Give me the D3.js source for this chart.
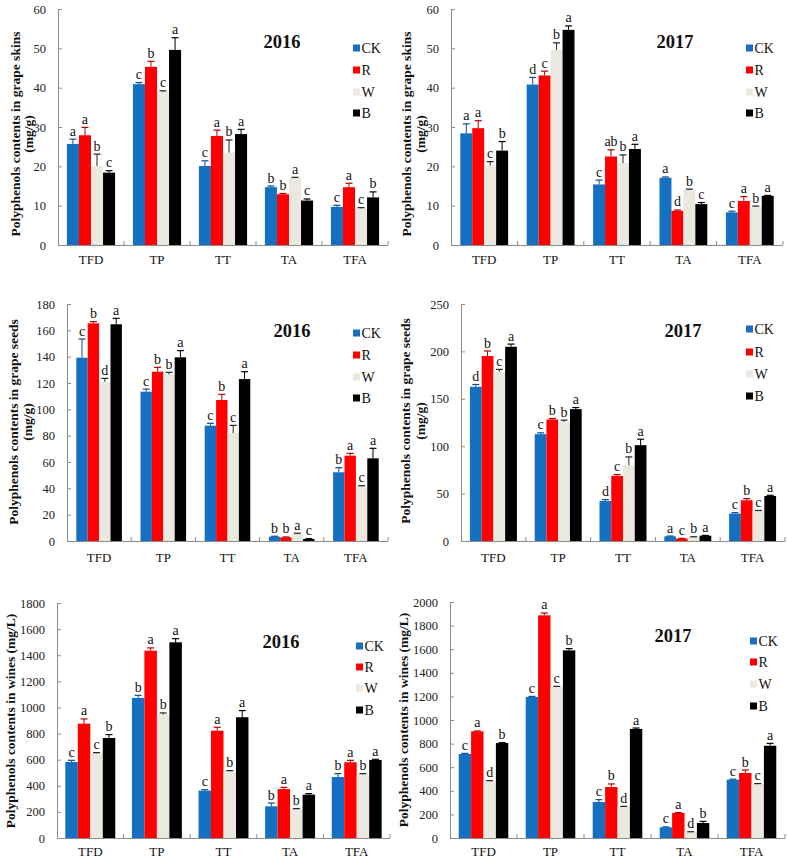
<!DOCTYPE html>
<html>
<head>
<meta charset="utf-8">
<script src="https://cdn.jsdelivr.net/npm/d3@7"></script>
<style>
  html, body { margin: 0; padding: 0; background: #fff; }
  svg { display: block; }
  text { font-family: "Liberation Serif", "Times New Roman", serif; }
</style>
</head>
<body>
<svg id="chart" width="787" height="858"></svg>
<script>
// ---------------- DATA ----------------
const categories = ["TFD", "TP", "TT", "TA", "TFA"];
const seriesNames = ["CK", "R", "W", "B"];

// Grape skins 2016 (mg/g): means per series [CK, R, W, B], each over categories
const skins2016Mean = [
  [25.7, 40.9, 20.1, 14.7, 9.7],
  [27.9, 45.3, 27.7, 12.9, 14.7],
  [20.1, 39.0, 23.5, 17.0, 9.3],
  [18.4, 49.6, 28.2, 11.3, 12.1]
];
const skins2016Err = [
  [1.2, 0.4, 1.3, 0.3, 0.4],
  [2.0, 1.4, 1.5, 0.2, 1.0],
  [3.0, 0.2, 3.2, 0.2, 0.2],
  [0.5, 3.1, 1.2, 0.4, 1.4]
];
const skins2016Letters = [
  ["a", "c", "c", "b", "c"],
  ["a", "b", "a", "b", "a"],
  ["b", "c", "b", "a", "c"],
  ["c", "a", "a", "c", "b"]
];

// Grape skins 2017 (mg/g)
const skins2017Mean = [
  [28.4, 40.8, 15.4, 17.1, 8.3],
  [29.7, 43.1, 22.5, 8.7, 11.2],
  [20.2, 49.6, 20.8, 14.0, 9.7],
  [24.0, 54.7, 24.4, 10.4, 12.5]
];
const skins2017Err = [
  [2.4, 1.8, 1.1, 0.2, 0.3],
  [1.9, 1.1, 1.7, 0.2, 1.1],
  [1.0, 1.8, 2.1, 0.2, 0.2],
  [2.3, 1.0, 1.2, 0.4, 0.1]
];
const skins2017Letters = [
  ["a", "d", "c", "a", "c"],
  ["a", "c", "ab", "d", "a"],
  ["c", "b", "b", "b", "b"],
  ["b", "a", "a", "c", "a"]
];

// Grape seeds 2016 (mg/g)
const seeds2016Mean = [
  [139.2, 113.4, 87.6, 3.3, 52.2],
  [165.3, 128.6, 107.1, 2.8, 64.8],
  [121.0, 126.6, 82.0, 5.6, 41.5],
  [164.6, 139.5, 123.0, 1.5, 62.8]
];
const seeds2016Err = [
  [14.2, 2.0, 1.8, 0.3, 3.5],
  [1.3, 3.3, 4.3, 0.3, 1.8],
  [2.5, 1.5, 5.8, 0.3, 0.5],
  [4.5, 5.1, 5.6, 0.3, 7.6]
];
const seeds2016Letters = [
  ["c", "c", "c", "b", "b"],
  ["b", "b", "b", "b", "a"],
  ["d", "b", "c", "a", "c"],
  ["a", "a", "a", "c", "a"]
];

// Grape seeds 2017 (mg/g)
const seeds2017Mean = [
  [162.7, 112.7, 42.3, 4.9, 28.9],
  [195.1, 128.2, 68.7, 2.5, 43.0],
  [178.5, 125.7, 80.0, 4.2, 31.7],
  [204.9, 139.1, 101.1, 5.6, 47.5]
];
const seeds2017Err = [
  [2.4, 1.4, 1.4, 0.3, 1.0],
  [5.3, 1.0, 1.4, 0.3, 1.7],
  [2.5, 1.8, 8.7, 0.3, 0.5],
  [2.8, 1.7, 6.3, 0.3, 0.7]
];
const seeds2017Letters = [
  ["d", "c", "d", "a", "c"],
  ["b", "b", "c", "c", "b"],
  ["c", "b", "b", "b", "c"],
  ["a", "a", "a", "a", "a"]
];

// Wines 2016 (mg/L)
const wines2016Mean = [
  [582, 1073, 363, 243, 467],
  [876, 1435, 822, 375, 580],
  [649, 945, 511, 222, 488],
  [766, 1499, 925, 332, 598]
];
const wines2016Err = [
  [13, 20, 7, 25, 26],
  [36, 21, 26, 13, 15],
  [5, 13, 5, 3, 5],
  [26, 28, 51, 8, 5]
];
const wines2016Letters = [
  ["c", "b", "c", "b", "b"],
  ["a", "a", "a", "a", "a"],
  ["c", "b", "b", "b", "b"],
  ["b", "a", "a", "a", "a"]
];

// Wines 2017 (mg/L)
const wines2017Mean = [
  [712, 1195, 305, 91, 494],
  [904, 1887, 432, 212, 551],
  [480, 1280, 263, 51, 458],
  [805, 1590, 924, 127, 782]
];
const wines2017Err = [
  [5, 5, 20, 3, 5],
  [3, 20, 26, 3, 25],
  [6, 5, 5, 2, 3],
  [3, 15, 8, 14, 20]
];
const wines2017Letters = [
  ["c", "c", "c", "c", "c"],
  ["a", "a", "b", "a", "b"],
  ["d", "c", "d", "d", "c"],
  ["b", "b", "a", "b", "a"]
];

const skinsTicks = [0, 10, 20, 30, 40, 50, 60];
const seeds2016Ticks = [0, 20, 40, 60, 80, 100, 120, 140, 160, 180];
const seeds2017Ticks = [0, 50, 100, 150, 200, 250];
const wines2016Ticks = [0, 200, 400, 600, 800, 1000, 1200, 1400, 1600, 1800];
const wines2017Ticks = [0, 200, 400, 600, 800, 1000, 1200, 1400, 1600, 1800, 2000];

const skinsLabel = ["Polyphenols contents in grape skins", "(mg/g)"];
const seedsLabel = ["Polyphenols contents in grape seeds", "(mg/g)"];
const winesLabel = ["Polyphenols contents in wines (mg/L)"];

// ---------------- STYLE / LAYOUT ----------------
const colors = { CK: "#1570c2", R: "#ff0000", W: "#ebe8df", B: "#000000" };
const errColors = { CK: "#0d4f8f", R: "#b00000", W: "#222222", B: "#000000" };
const axisColor = "#8c8c8c";

const panels = [
  { mean: skins2016Mean, err: skins2016Err, letters: skins2016Letters, ticks: skinsTicks,
    title: "2016", ylabel: skinsLabel,
    ax: 58, right: 388, top: 9, bottom: 245, pad: 0.27,
    titleX: 282, titleY: 48, legX: 353, legY: [48, 70, 92, 113],
    labX: [15, 28], labY: 134, catY: 264 },
  { mean: skins2017Mean, err: skins2017Err, letters: skins2017Letters, ticks: skinsTicks,
    title: "2017", ylabel: skinsLabel,
    ax: 451, right: 783, top: 9, bottom: 245, pad: 0.28,
    titleX: 675, titleY: 48, legX: 746, legY: [48, 70, 92, 113],
    labX: [406, 420], labY: 134, catY: 264 },
  { mean: seeds2016Mean, err: seeds2016Err, letters: seeds2016Letters, ticks: seeds2016Ticks,
    title: "2016", ylabel: seedsLabel,
    ax: 67, right: 388, top: 304, bottom: 541, pad: 0.29,
    titleX: 292, titleY: 337, legX: 353, legY: [333, 355, 377, 398],
    labX: [13, 27], labY: 422, catY: 562 },
  { mean: seeds2017Mean, err: seeds2017Err, letters: seeds2017Letters, ticks: seeds2017Ticks,
    title: "2017", ylabel: seedsLabel,
    ax: 461, right: 785, top: 304, bottom: 541, pad: 0.275,
    titleX: 683, titleY: 337, legX: 746, legY: [329, 352, 374, 396],
    labX: [405, 420], labY: 421, catY: 562 },
  { mean: wines2016Mean, err: wines2016Err, letters: wines2016Letters, ticks: wines2016Ticks,
    title: "2016", ylabel: winesLabel,
    ax: 57, right: 390, top: 603, bottom: 838, pad: 0.25,
    titleX: 281, titleY: 648, legX: 356, legY: [646, 667, 688, 710],
    labX: [10], labY: 721, catY: 856 },
  { mean: wines2017Mean, err: wines2017Err, letters: wines2017Letters, ticks: wines2017Ticks,
    title: "2017", ylabel: winesLabel,
    ax: 450, right: 785, top: 602, bottom: 838, pad: 0.26,
    titleX: 673, titleY: 642, legX: 750, legY: [641, 662, 684, 706],
    labX: [403], labY: 720, catY: 856 }
];

const svg = d3.select("#chart");

panels.forEach(p => {
  const g = svg.append("g");
  const x = d3.scaleBand().domain(categories).range([p.ax, p.right])
    .paddingInner(p.pad).paddingOuter(p.pad / 2);
  const xs = d3.scaleBand().domain(seriesNames).range([0, x.bandwidth()]).padding(0);
  const yMax = p.ticks[p.ticks.length - 1];
  const y = d3.scaleLinear().domain([0, yMax]).range([p.bottom, p.top]);

  // Bars
  seriesNames.forEach((s, si) => {
    const rows = categories.map((c, ci) => ({
      c, s, v: p.mean[si][ci], e: p.err[si][ci], l: p.letters[si][ci]
    }));
    const sg = g.append("g");
    sg.selectAll("rect").data(rows).join("rect")
      .attr("x", d => x(d.c) + xs(d.s))
      .attr("y", d => y(d.v))
      .attr("width", xs.bandwidth())
      .attr("height", d => y(0) - y(d.v))
      .attr("fill", colors[s]);
    // error bars
    const cx = d => x(d.c) + xs(d.s) + xs.bandwidth() / 2;
    sg.selectAll("line.ev").data(rows).join("line").attr("class", "ev")
      .attr("x1", cx).attr("x2", cx)
      .attr("y1", d => y(d.v)).attr("y2", d => y(d.v + d.e))
      .attr("stroke", errColors[s]).attr("stroke-width", 1);
    sg.selectAll("line.ec").data(rows).join("line").attr("class", "ec")
      .attr("x1", d => cx(d) - 3.5).attr("x2", d => cx(d) + 3.5)
      .attr("y1", d => y(d.v + d.e)).attr("y2", d => y(d.v + d.e))
      .attr("stroke", errColors[s]).attr("stroke-width", 1.2);
    // letters
    sg.selectAll("text").data(rows).join("text")
      .attr("x", cx)
      .attr("y", d => y(d.v + d.e) - 3.5)
      .attr("text-anchor", "middle")
      .attr("font-size", 14)
      .attr("fill", "#111")
      .text(d => d.l);
  });

  // Y axis
  const yAxis = d3.axisLeft(y).tickValues(p.ticks).tickSize(-4).tickPadding(12)
    .tickFormat(d3.format("d"));
  const ya = g.append("g").attr("transform", `translate(${p.ax},0)`).call(yAxis);
  ya.select(".domain").attr("stroke", axisColor);
  ya.selectAll(".tick line").attr("stroke", axisColor);
  ya.selectAll(".tick text").attr("font-size", 12.5).attr("fill", "#222")
    .style("font-family", '"Liberation Serif", serif');

  // X axis (baseline with inward ticks at category boundaries)
  g.append("line").attr("x1", p.ax).attr("x2", p.right)
    .attr("y1", p.bottom + 0.5).attr("y2", p.bottom + 0.5)
    .attr("stroke", axisColor);
  const bounds = categories.map(c => x(c) - x.step() * x.paddingInner() / 2).slice(1);
  bounds.push(p.right);
  g.selectAll("line.xt").data(bounds).join("line").attr("class", "xt")
    .attr("x1", d => d).attr("x2", d => d)
    .attr("y1", p.bottom).attr("y2", p.bottom - 4)
    .attr("stroke", axisColor);
  g.selectAll("text.cat").data(categories).join("text").attr("class", "cat")
    .attr("x", d => x(d) + x.bandwidth() / 2)
    .attr("y", p.catY)
    .attr("text-anchor", "middle")
    .attr("font-size", 13)
    .attr("fill", "#111")
    .text(d => d);

  // Y label
  p.ylabel.forEach((t, i) => {
    g.append("text")
      .attr("transform", `translate(${p.labX[i]},${p.labY}) rotate(-90)`)
      .attr("text-anchor", "middle")
      .attr("dominant-baseline", "central")
      .attr("font-size", 13.5)
      .attr("font-weight", "bold")
      .attr("fill", "#111")
      .text(t);
  });

  // Title
  g.append("text").attr("x", p.titleX).attr("y", p.titleY)
    .attr("text-anchor", "middle").attr("font-size", 18.5).attr("font-weight", "bold")
    .attr("fill", "#111").text(p.title);

  // Legend
  seriesNames.forEach((s, i) => {
    g.append("rect").attr("x", p.legX).attr("y", p.legY[i] - 3.5)
      .attr("width", 7).attr("height", 7).attr("fill", colors[s]);
    g.append("text").attr("x", p.legX + 8.5).attr("y", p.legY[i])
      .attr("dominant-baseline", "central")
      .attr("font-size", 14).attr("fill", "#111").text(s);
  });
});
</script>
</body>
</html>
